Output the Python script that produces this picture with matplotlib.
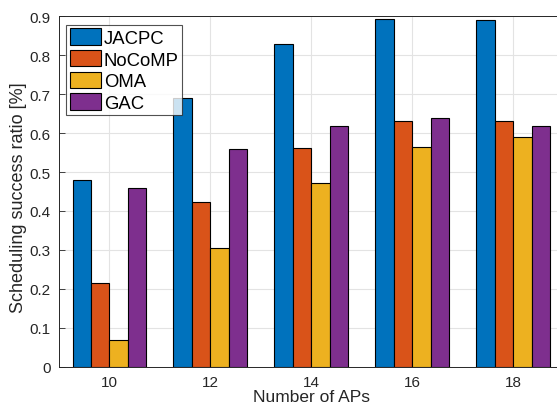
import matplotlib
matplotlib.use("Agg")
import matplotlib.pyplot as plt
import numpy as np

aps = [10, 12, 14, 16, 18]
series_names = ["JACPC", "NoCoMP", "OMA", "GAC"]
jacpc = [0.480, 0.689, 0.829, 0.894, 0.891]
nocomp = [0.214, 0.422, 0.561, 0.630, 0.631]
oma = [0.069, 0.305, 0.471, 0.565, 0.589]
gac = [0.459, 0.558, 0.618, 0.638, 0.618]
colors = ["#0072BD", "#D95319", "#EDB120", "#7E2F8E"]
yticks = [0, 0.1, 0.2, 0.3, 0.4, 0.5, 0.6, 0.7, 0.8, 0.9]

plt.rcParams['font.family'] = ['Liberation Sans', 'DejaVu Sans']

fig = plt.figure(figsize=(5.57, 4.06), dpi=100)
ax = fig.add_axes([59/557, 38.3/406, (563.6-59)/557, (367.7-17.3)/406])

axis_col = "#262626"
w = 0.366
x = np.array(aps, dtype=float)
data = [jacpc, nocomp, oma, gac]
for i, (vals, name, c) in enumerate(zip(data, series_names, colors)):
    ax.bar(x + (i - 1.5) * w, vals, width=w, color=c, edgecolor="black",
           linewidth=0.8, label=name, zorder=3)

ax.set_xlim(9, 19)
ax.set_ylim(0, 0.9)
ax.set_xticks(aps)
ax.set_yticks(yticks)
ax.set_yticklabels(["0" if v == 0 else f"{v:g}" for v in yticks])
ax.grid(True, color="#e3e3e3", linewidth=0.8, zorder=0)
ax.set_axisbelow(True)
ax.tick_params(direction="in", length=4, width=0.6, colors=axis_col,
               labelsize=11, top=False, right=False, pad=6)
for s in ["left", "bottom", "top"]:
    ax.spines[s].set_color(axis_col)
    ax.spines[s].set_linewidth(0.7)
ax.spines["right"].set_visible(False)

ax.set_xlabel("Number of APs", fontsize=12.5, color=axis_col, labelpad=0)
ax.set_ylabel("Scheduling success ratio [%]", fontsize=13, color=axis_col)
ax.yaxis.set_label_coords(-0.064, 0.484)

leg = ax.legend(loc="upper left", bbox_to_anchor=(0.0145, 0.976), fontsize=13.3,
                frameon=True, fancybox=False, edgecolor=axis_col,
                handlelength=1.7, handleheight=1.0, handletextpad=0.12,
                labelspacing=0.16, borderpad=0.2, borderaxespad=0)
leg.get_frame().set_linewidth(0.8)

fig.savefig("out.png", dpi=100)
